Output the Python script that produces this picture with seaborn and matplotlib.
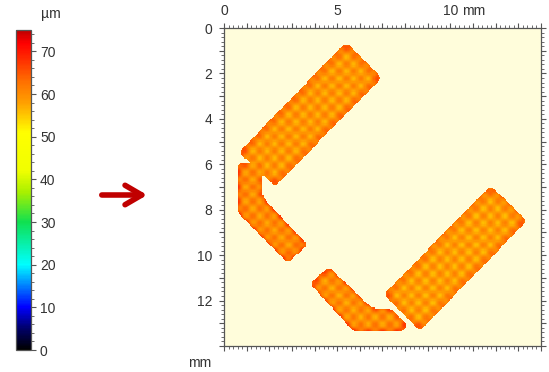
import numpy as np
import pandas as pd
import matplotlib
matplotlib.use("Agg")
import matplotlib.pyplot as plt
import seaborn as sns
from matplotlib.path import Path
from matplotlib.colors import LinearSegmentedColormap
from matplotlib.patches import FancyArrowPatch
from matplotlib.ticker import FixedLocator, FixedFormatter, MultipleLocator

# ---------------- data (mm / µm) ----------------
# outlines of the printed shapes (mm, x to the right, y downward)
upper_bar_x = [0.66, 5.38, 6.95, 2.26]
upper_bar_y = [5.47, 0.63, 2.20, 6.97]
left_piece_x = [0.62, 1.68, 1.68, 3.68, 2.82, 0.83, 0.62]
left_piece_y = [5.95, 5.95, 7.45, 9.53, 10.36, 8.35, 8.10]
lower_piece_x = [3.82, 4.62, 6.55, 7.40, 8.10, 7.88, 5.72]
lower_piece_y = [11.27, 10.50, 12.36, 12.36, 13.10, 13.34, 13.34]
right_bar_x = [7.05, 11.77, 13.37, 8.64]
right_bar_y = [11.74, 6.93, 8.50, 13.34]
shape_heights = [59.0, 60.0, 59.5, 58.5]       # mean layer height, µm

x_extent_mm = 14.0
y_extent_mm = 14.0
x_tick_labels = {0: "0", 5: "5", 10: "10"}
y_tick_labels = {0: "0", 2: "2", 4: "4", 6: "6", 8: "8", 10: "10", 12: "12"}
cbar_ticks = [0, 10, 20, 30, 40, 50, 60, 70]
cbar_min, cbar_max = 0, 75

# ---------------- styling ----------------
res = 0.05                        # grid cell, mm
bg_color = "#FFFDDB"
text_color = "#333333"
frame_color = "#555555"
cmap = LinearSegmentedColormap.from_list("heightmap", [
    (0 / 75, "#000000"), (5 / 75, "#00006A"), (10 / 75, "#0000FF"),
    (15 / 75, "#0080FF"), (20 / 75, "#00FFFF"), (30 / 75, "#10E050"),
    (37 / 75, "#A8F000"), (42 / 75, "#F0FF00"), (51 / 75, "#FFFF00"),
    (58 / 75, "#FFA000"), (63 / 75, "#FF7000"), (68 / 75, "#FF3000"),
    (72 / 75, "#FF0000"), (75 / 75, "#C00000")])

sns.set_style("ticks")
plt.rcParams["font.family"] = ["Liberation Sans", "DejaVu Sans"]

# ---------------- height map ----------------
nx = int(round(x_extent_mm / res))
ny = int(round(y_extent_mm / res))
xc = (np.arange(nx) + 0.5) * res
yc = (np.arange(ny) + 0.5) * res
X, Y = np.meshgrid(xc, yc)
pts = np.column_stack([X.ravel(), Y.ravel()])


def blur(a, s):
    r = int(3 * s)
    k = np.exp(-0.5 * (np.arange(-r, r + 1) / s) ** 2)
    k /= k.sum()
    a = np.apply_along_axis(lambda m: np.convolve(m, k, "same"), 0, a)
    a = np.apply_along_axis(lambda m: np.convolve(m, k, "same"), 1, a)
    return a


shapes = [(upper_bar_x, upper_bar_y), (left_piece_x, left_piece_y),
          (lower_piece_x, lower_piece_y), (right_bar_x, right_bar_y)]
u = (X + Y) / np.sqrt(2)
v = (X - Y) / np.sqrt(2)
period = 0.45
weave = 0.5 * (np.cos(2 * np.pi * u / period) + np.cos(2 * np.pi * v / period))

union = np.zeros((ny, nx), bool)
base = np.full((ny, nx), np.nan)
for (sx, sy), h in zip(shapes, shape_heights):
    inside = Path(np.column_stack([sx, sy])).contains_points(pts).reshape(ny, nx)
    keep = blur(inside.astype(float), 2.6) >= 0.45
    union |= keep
    base = np.where(keep, np.fmax(base, h), base)

edge = np.clip(2.0 * (1.0 - blur(union.astype(float), 4.5)), 0, 1)
Z = np.where(union, base + 2.8 * weave + 5.5 * edge ** 1.5, np.nan)

df = pd.DataFrame(Z, index=np.round(yc, 3), columns=np.round(xc, 3))

# ---------------- figure ----------------
fig = plt.figure(figsize=(5.49, 3.72), dpi=100)
ax = fig.add_axes([0.408, 0.0699, 0.5774, 0.8548])
cax = fig.add_axes([0.0291, 0.0591, 0.0273, 0.8602])

sns.heatmap(df, ax=ax, cbar_ax=cax, cmap=cmap, vmin=cbar_min, vmax=cbar_max,
            xticklabels=False, yticklabels=False, rasterized=True)
ax.set_facecolor(bg_color)
ax.set_frame_on(True)
for sp in ax.spines.values():
    sp.set_visible(True)
    sp.set_color(frame_color)
    sp.set_linewidth(0.9)
ax.set_xlabel("")
ax.set_ylabel("")

xmaj = np.arange(0, int(x_extent_mm) + 1)
ymaj = np.arange(0, int(y_extent_mm) + 1)
ax.xaxis.set_major_locator(FixedLocator(xmaj / res))
ax.xaxis.set_major_formatter(FixedFormatter([x_tick_labels.get(int(t), "") for t in xmaj]))
ax.yaxis.set_major_locator(FixedLocator(ymaj / res))
ax.yaxis.set_major_formatter(FixedFormatter([y_tick_labels.get(int(t), "") for t in ymaj]))
ax.xaxis.set_minor_locator(FixedLocator(np.arange(0, x_extent_mm + 0.01, 0.2) / res))
ax.yaxis.set_minor_locator(FixedLocator(np.arange(0, y_extent_mm + 0.01, 0.2) / res))
ax.tick_params(which="both", direction="out", top=True, bottom=True, left=True, right=True,
               labeltop=True, labelbottom=False, labelleft=True, labelright=False,
               color=frame_color, labelcolor=text_color, labelsize=10, labelrotation=0)
ax.tick_params(which="major", length=3.5, width=0.8)
ax.tick_params(axis="x", which="major", pad=4)
ax.tick_params(axis="y", which="major", pad=5)
ax.tick_params(which="minor", length=2.0, width=0.6)

ax.annotate("mm", xy=(10.52 / res, 1.0), xycoords=("data", "axes fraction"),
            xytext=(0, 7.5), textcoords="offset points", ha="left", va="bottom",
            fontsize=10, color=text_color)
fig.text(0.364, 0.025, "mm", ha="center", va="center", fontsize=10, color=text_color)

cb = ax.collections[0].colorbar
cb.set_ticks(cbar_ticks)
cb.set_ticklabels([str(t) for t in cbar_ticks])
cb.ax.yaxis.set_minor_locator(MultipleLocator(2))
cb.ax.tick_params(which="both", direction="out", right=True, left=False,
                  color=frame_color, labelcolor=text_color, labelsize=10)
cb.ax.tick_params(which="major", length=3.5, width=0.8, pad=3)
cb.ax.tick_params(which="minor", length=2.0, width=0.6)
cb.outline.set_edgecolor(frame_color)
cb.outline.set_linewidth(0.9)
fig.text(0.092, 0.963, "µm", ha="center", va="center", fontsize=10, color=text_color)

arrow = FancyArrowPatch((99 / 549, 1 - 195 / 372), (150 / 549, 1 - 195 / 372),
                        transform=fig.transFigure,
                        arrowstyle="->,head_length=0.6,head_width=0.35",
                        mutation_scale=20, linewidth=4, color="#C00000",
                        capstyle="round", joinstyle="round")
fig.patches.append(arrow)

fig.savefig("out.png", dpi=100)
